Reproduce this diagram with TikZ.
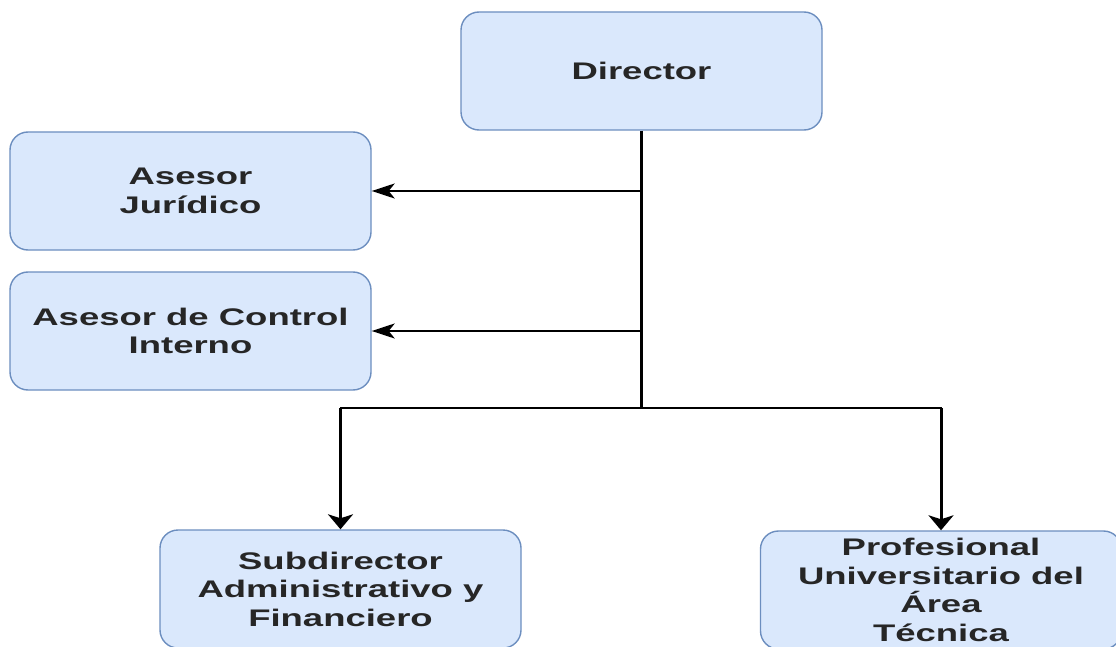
\documentclass[tikz,border=0pt]{standalone}
\usepackage{fontspec}
\newfontfamily\cargofont[FakeStretch=1.52]{Liberation Sans}
\usetikzlibrary{arrows.meta}
\definecolor{cajafondo}{HTML}{DAE8FC}
\definecolor{cajaborde}{HTML}{6C8EBF}

\begin{document}
\begin{tikzpicture}[x=1pt,y=-1pt]
    \tikzstyle{cargo} = [draw=cajaborde, fill=cajafondo, line width=1.4pt,
        rounded corners=18pt, minimum width=361pt, minimum height=118pt,
        align=center, inner sep=0pt, text=black!85,
        font=\cargofont\bfseries\fontsize{24}{28.5}\selectfont]
    \tikzstyle{horiz} = [line width=2pt]
    \tikzstyle{vert} = [line width=3pt]
    \tikzstyle{flechah} = [horiz, -{Stealth[length=23pt,width=15pt,inset=6pt]}]
    \tikzstyle{flechav} = [vert, -{Stealth[length=15pt,width=25pt,inset=4pt]}]

    \useasboundingbox (0,0) rectangle (1116,647);
    \clip (0,0) rectangle (1116,647);

    \node[cargo] (1) at (641.5,71) {Director};
    \node[cargo] (2) at (190.5,191) {Asesor\\Jurídico};
    \node[cargo] (3) at (190.5,331) {Asesor de Control\\Interno};
    \node[cargo] (4) at (340.5,589) {Subdirector\\Administrativo y\\Financiero};
    \node[cargo] (5) at (941,590) {Profesional\\Universitario del\\Área\\Técnica};

    \coordinate (6) at (641.5,408);
    \coordinate (7) at (4.north |- 6);
    \coordinate (8) at (5.north |- 6);

    \draw[vert]  (1) -- (6);
    \draw[flechah]  (1.south |- 2.east) -- (2.east);
    \draw[flechah]  (1.south |- 3.east) -- (3.east);
    \draw[horiz, line cap=rect]  (7) -- (8);
    \draw[flechav]  (7) -- (4.north);
    \draw[flechav]  (8) -- (5.north);

\end{tikzpicture}
\end{document}
